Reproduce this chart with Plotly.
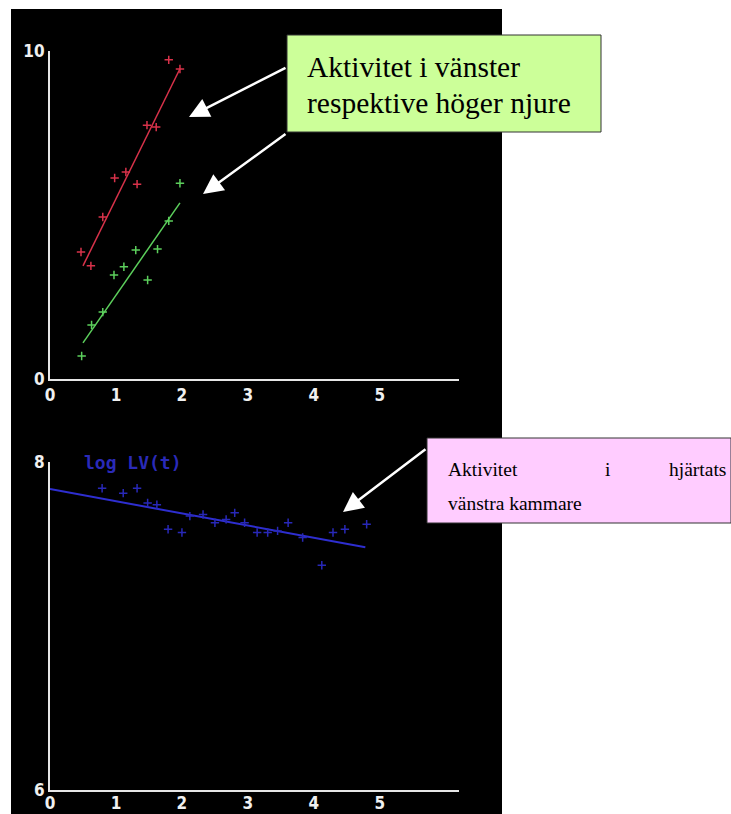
import plotly.graph_objects as go

# ---------------- data ----------------
x_ticks = [0, 1, 2, 3, 4, 5]

# Top panel: kidney activity (left = red, right = green)
red_x = [0.47, 0.62, 0.80, 0.98, 1.15, 1.32, 1.47, 1.61, 1.80, 1.97]
red_y = [3.87, 3.45, 4.94, 6.13, 6.31, 5.94, 7.74, 7.68, 9.73, 9.45]
green_x = [0.48, 0.63, 0.80, 0.97, 1.12, 1.30, 1.48, 1.63, 1.80, 1.97]
green_y = [0.70, 1.65, 2.04, 3.17, 3.42, 3.93, 3.02, 3.96, 4.82, 5.97]
fit_x = [0.5, 1.97]
red_fit = [3.45, 9.46]
green_fit = [1.10, 5.37]

# Bottom panel: log LV(t)
blue_x = [0.79, 1.11, 1.32, 1.48, 1.62, 1.79, 2.00, 2.12, 2.32, 2.50, 2.67,
          2.80, 2.95, 3.14, 3.30, 3.45, 3.61, 3.83, 4.12, 4.29, 4.47, 4.80]
blue_y = [7.84, 7.81, 7.84, 7.75, 7.74, 7.59, 7.57, 7.67, 7.68, 7.63, 7.65,
          7.69, 7.63, 7.57, 7.57, 7.58, 7.63, 7.54, 7.37, 7.57, 7.59, 7.62]
blue_fit_x = [0.0, 4.78]
blue_fit = [7.835, 7.48]

W, H = 731, 814


def px(x):
    return x / W


def py(y):
    return 1 - y / H


RED = "#d8324a"
GREEN = "#5ccf5c"
BLUE = "#2e2ed0"
AXC = "#e6e6e6"

fig = go.Figure()


def marker(c):
    return dict(symbol="cross-thin", size=6, line=dict(color=c, width=1.5), color=c)


fig.add_trace(go.Scatter(x=fit_x, y=red_fit, mode="lines", line=dict(color=RED, width=1.5),
                         xaxis="x", yaxis="y", hoverinfo="skip"))
fig.add_trace(go.Scatter(x=red_x, y=red_y, mode="markers", marker=marker(RED), xaxis="x", yaxis="y"))
fig.add_trace(go.Scatter(x=fit_x, y=green_fit, mode="lines", line=dict(color=GREEN, width=1.5),
                         xaxis="x", yaxis="y", hoverinfo="skip"))
fig.add_trace(go.Scatter(x=green_x, y=green_y, mode="markers", marker=marker(GREEN), xaxis="x", yaxis="y"))

fig.add_trace(go.Scatter(x=blue_fit_x, y=blue_fit, mode="lines", line=dict(color=BLUE, width=2),
                         xaxis="x2", yaxis="y2", hoverinfo="skip"))
fig.add_trace(go.Scatter(x=blue_x, y=blue_y, mode="markers", marker=marker("#2828b8"),
                         xaxis="x2", yaxis="y2"))

tickfont = dict(family="DejaVu Sans Condensed", size=17, color="#f0f0f0", weight="bold")

xdom = [px(50), px(459)]
axis_common = dict(showgrid=False, zeroline=False, showline=True, linecolor=AXC, linewidth=2,
                   ticks="", tickfont=tickfont, fixedrange=True, automargin=False)

fig.update_layout(
    width=W, height=H,
    margin=dict(l=0, r=0, t=0, b=0, autoexpand=False),
    paper_bgcolor="white",
    plot_bgcolor="rgba(0,0,0,0)",
    showlegend=False,
    xaxis=dict(domain=xdom, range=[0, 6.2], tickvals=x_ticks, anchor="y", **axis_common),
    yaxis=dict(domain=[py(379), py(51)], range=[0, 10], tickvals=[0, 10], anchor="x", **axis_common),
    xaxis2=dict(domain=xdom, range=[0, 6.2], tickvals=x_ticks, anchor="y2",
                ticklabelstandoff=-3, **axis_common),
    yaxis2=dict(domain=[py(790), py(462)], range=[6, 8], tickvals=[6, 8], anchor="x2", **axis_common),
)

shapes = [
    dict(type="rect", xref="paper", yref="paper", x0=px(11), x1=px(502), y0=py(814), y1=py(9),
         fillcolor="black", line=dict(width=0), layer="below"),
    dict(type="rect", xref="paper", yref="paper", x0=px(287), x1=px(601), y0=py(132), y1=py(35),
         fillcolor="#ccff99", line=dict(color="#333333", width=1), layer="above"),
    dict(type="rect", xref="paper", yref="paper", x0=px(427), x1=px(731), y0=py(523), y1=py(438),
         fillcolor="#ffccff", line=dict(color="#333333", width=1), layer="above"),
]
fig.update_layout(shapes=shapes)

serif_g = dict(family="Liberation Serif", size=29.5, color="black")
serif_p = dict(family="Liberation Serif", size=19.5, color="black")

annotations = [
    # arrows
    dict(xref="paper", yref="paper", x=px(189), y=py(117), ax=98, ay=-50, text="",
         showarrow=True, arrowhead=2, arrowsize=1.6, arrowwidth=2.5, arrowcolor="white"),
    dict(xref="paper", yref="paper", x=px(203), y=py(194), ax=84, ay=-61, text="",
         showarrow=True, arrowhead=2, arrowsize=1.6, arrowwidth=2.5, arrowcolor="white"),
    dict(xref="paper", yref="paper", x=px(343), y=py(512), ax=84, ay=-64, text="",
         showarrow=True, arrowhead=2, arrowsize=1.6, arrowwidth=2.5, arrowcolor="white"),
    # green box text
    dict(xref="paper", yref="paper", x=px(305), y=py(67), text="Aktivitet i vänster",
         xanchor="left", yanchor="middle", showarrow=False, font=serif_g),
    dict(xref="paper", yref="paper", x=px(305), y=py(103), text="respektive höger njure",
         xanchor="left", yanchor="middle", showarrow=False, font=serif_g),
    # pink box text (justified first line)
    dict(xref="paper", yref="paper", x=px(446), y=py(470), text="Aktivitet",
         xanchor="left", yanchor="middle", showarrow=False, font=serif_p),
    dict(xref="paper", yref="paper", x=px(608), y=py(470), text="i",
         xanchor="center", yanchor="middle", showarrow=False, font=serif_p),
    dict(xref="paper", yref="paper", x=px(728), y=py(470), text="hjärtats",
         xanchor="right", yanchor="middle", showarrow=False, font=serif_p),
    dict(xref="paper", yref="paper", x=px(446), y=py(503), text="vänstra kammare",
         xanchor="left", yanchor="middle", showarrow=False, font=serif_p),
    # panel label
    dict(xref="paper", yref="paper", x=px(133), y=py(462), text="log LV(t)",
         xanchor="center", yanchor="middle", showarrow=False,
         font=dict(family="DejaVu Sans Mono", size=18, color="#2a2ab8", weight="bold")),
]
fig.update_layout(annotations=annotations)

fig.write_html(
    "out.html",
    config={"displayModeBar": False},
    post_script="document.body.style.margin='0px';document.body.style.overflow='hidden';",
)
